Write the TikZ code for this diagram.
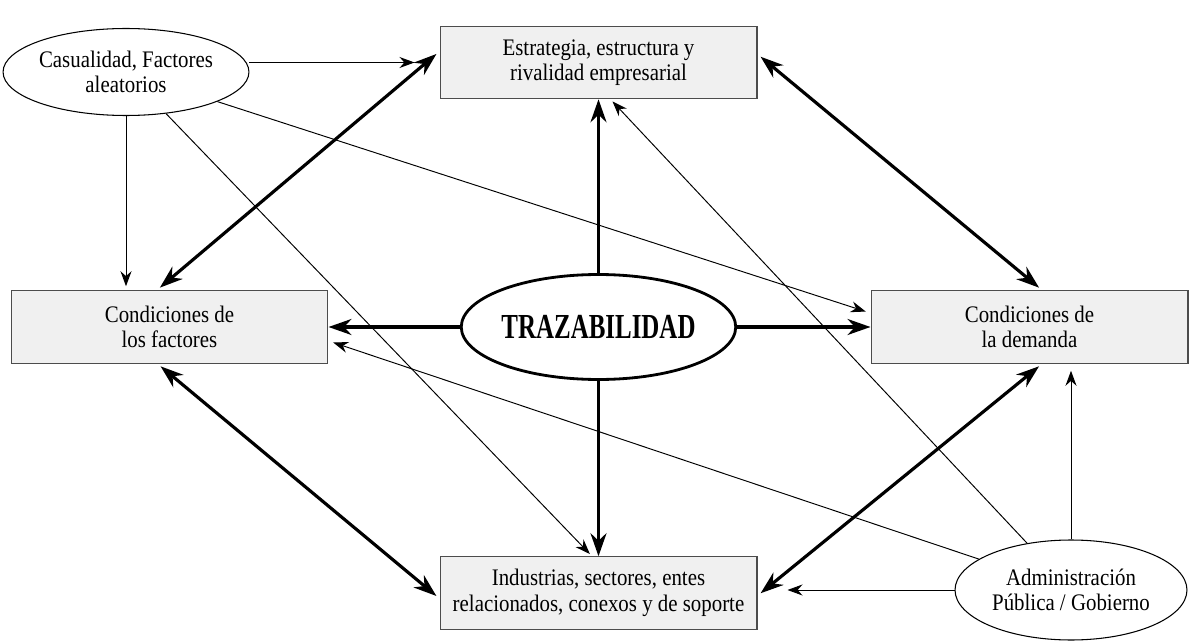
\documentclass[tikz,border=0pt]{standalone}
\usepackage{fontspec}
\setmainfont{Liberation Serif}
\newfontfamily\condserif[FakeStretch=0.71]{Liberation Serif}
\newfontfamily\narrowserif[FakeStretch=0.88]{Liberation Serif}
\usetikzlibrary{arrows.meta,shapes.geometric}

\begin{document}
\begin{tikzpicture}[
        x=0.02cm, y=-0.02cm,
        block/.style={draw=black!70, fill=black!6, line width=0.6pt, minimum width=6.34cm, minimum height=1.45cm, inner sep=0pt, align=center, font=\narrowserif\fontsize{13.5}{14.5}\selectfont},
        oval/.style={ellipse, draw, line width=0.6pt, fill=white, inner sep=0pt, minimum width=4.64cm, minimum height=1.74cm, align=center, font=\narrowserif\fontsize{13.5}{14.5}\selectfont},
        link/.style={-{Stealth[length=3mm,width=2.2mm]}, line width=0.55pt},
        bigarrow/.style={-{Stealth[length=4.6mm,width=3.2mm]}, line width=1.8pt},
        biglink/.style={{Stealth[length=4.6mm,width=3.2mm]}-{Stealth[length=4.6mm,width=3.2mm]}, line width=1.8pt, shorten <=0.08cm, shorten >=0.08cm}
      ]
        \useasboundingbox (0,0) rectangle (1191,642);

        \node (chance) at (126, 72)      [oval] {Casualidad, Factores\\aleatorios};
        \node (strat) at (598.5, 62.5)   [block] {Estrategia, estructura y\\rivalidad empresarial};
        \node (factors) at (169.5, 327)  [block] {Condiciones de\\los factores};
        \node (demand) at (1029.5, 327)  [block] {Condiciones de\\la demanda};
        \node (related) at (598.5, 593)  [block] {Industrias, sectores, entes\\relacionados, conexos y de soporte};
        \node (trace) at (598.5, 327)    [oval, line width=1.6pt, minimum width=4.7cm, minimum height=2.1cm, font=\condserif\bfseries\fontsize{20}{22}\selectfont] {TRAZABILIDAD};
        \node (gov) at (1071, 590)       [oval, minimum height=2cm] {Administración\\Pública / Gobierno};

        % thin arrows
        \draw [link, shorten >=0.5cm] (chance.east |- strat.west) -- (strat.west);
        \draw [link, shorten >=0.08cm] (chance.south) -- (chance.south |- factors.north);
        \draw [link, shorten >=0.1cm] (chance) -- (demand.175);
        \draw [link, shorten >=0.06cm] (chance) -- (related.100);
        \draw [link, shorten >=0.06cm] (gov) -- (strat.-72.5);
        \draw [link, shorten >=0.1cm] (gov) -- (factors.-5.8);
        \draw [link, shorten >=0.14cm] (gov.north) -- (gov.north |- demand.south);
        \draw [link, shorten >=0.6cm] (gov.west) -- (gov.west -| related.east);

        % thick arrows
        \draw [bigarrow] (trace) -- (strat);
        \draw [bigarrow] (trace) -- (related);
        \draw [bigarrow] (trace) -- (factors);
        \draw [bigarrow] (trace) -- (demand);
        \draw [biglink] (factors.109) -- (strat.176.6);
        \draw [biglink] (strat.3.8) -- (demand.71);
        \draw [biglink] (factors.-108) -- (related.182.5);
        \draw [biglink] (demand.-71) -- (related.-1.8);
      \end{tikzpicture}
\end{document}
